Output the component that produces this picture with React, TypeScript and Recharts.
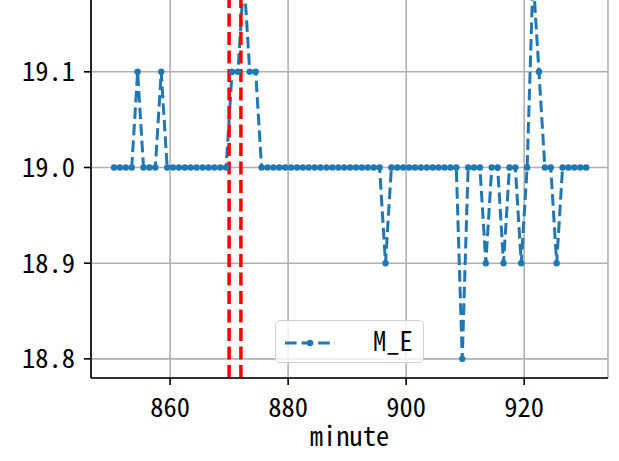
import React from 'react';
import { LineChart, Line, XAxis, YAxis, CartesianGrid, ReferenceLine } from 'recharts';

const minutes = [
  850.5, 851.5, 852.5, 853.5, 854.5, 855.5, 856.5, 857.5, 858.5, 859.5,
  860.5, 861.5, 862.5, 863.5, 864.5, 865.5, 866.5, 867.5, 868.5, 869.5,
  870.5, 871.5, 872.5, 873.5, 874.5, 875.5, 876.5, 877.5, 878.5, 879.5,
  880.5, 881.5, 882.5, 883.5, 884.5, 885.5, 886.5, 887.5, 888.5, 889.5,
  890.5, 891.5, 892.5, 893.5, 894.5, 895.5, 896.5, 897.5, 898.5, 899.5,
  900.5, 901.5, 902.5, 903.5, 904.5, 905.5, 906.5, 907.5, 908.5, 909.5,
  910.5, 911.5, 912.5, 913.5, 914.5, 915.5, 916.5, 917.5, 918.5, 919.5,
  920.5, 921.5, 922.5, 923.5, 924.5, 925.5, 926.5, 927.5, 928.5, 929.5,
  930.5,
];

const meValues = [
  19.0, 19.0, 19.0, 19.0, 19.1, 19.0, 19.0, 19.0, 19.1, 19.0,
  19.0, 19.0, 19.0, 19.0, 19.0, 19.0, 19.0, 19.0, 19.0, 19.0,
  19.1, 19.1, 19.2, 19.1, 19.1, 19.0, 19.0, 19.0, 19.0, 19.0,
  19.0, 19.0, 19.0, 19.0, 19.0, 19.0, 19.0, 19.0, 19.0, 19.0,
  19.0, 19.0, 19.0, 19.0, 19.0, 19.0, 18.9, 19.0, 19.0, 19.0,
  19.0, 19.0, 19.0, 19.0, 19.0, 19.0, 19.0, 19.0, 19.0, 18.8,
  19.0, 19.0, 19.0, 18.9, 19.0, 19.0, 18.9, 19.0, 19.0, 18.9,
  19.0, 19.2, 19.1, 19.0, 19.0, 18.9, 19.0, 19.0, 19.0, 19.0,
  19.0,
];

const xTicks = [860, 880, 900, 920];
const yTicks = [18.8, 18.9, 19.0, 19.1];
const markerMinutes = [870, 872];
const seriesName = 'M_E';
const xLabel = 'minute';

const data = minutes.map((m, i) => ({ minute: m, [seriesName]: meValues[i] }));

const FONT = "'Noto Sans Mono CJK SC', 'DejaVu Sans Mono', monospace";
const FS = 26.5;
const BLUE = '#1f77b4';

export default function App() {
  return (
    <div>
      <div style={{ position: 'absolute', left: 0, top: -50, width: 619, height: 511 }}>
        <LineChart width={619} height={511} data={data} margin={{ top: 7, right: 11, bottom: 13, left: 0 }}>
          <CartesianGrid stroke="#b0b0b0" strokeWidth={1.6} />
          <XAxis
            dataKey="minute"
            type="number"
            domain={[846.6, 934.2]}
            allowDataOverflow
            ticks={xTicks}
            height={70}
            tickSize={7}
            tickMargin={13}
            axisLine={{ stroke: '#000', strokeWidth: 1.6 }}
            tickLine={{ stroke: '#000', strokeWidth: 1.6 }}
            tick={{ fill: '#000', fontSize: FS, fontFamily: FONT }}
            label={{ value: xLabel, position: 'insideBottom', offset: 2, fill: '#000', fontSize: FS, fontFamily: FONT }}
          />
          <YAxis
            type="number"
            domain={[18.78, 19.22]}
            allowDataOverflow
            ticks={yTicks}
            width={91}
            tickSize={7}
            tickMargin={9}
            tickFormatter={(v: number) => v.toFixed(1)}
            axisLine={{ stroke: '#000', strokeWidth: 1.6 }}
            tickLine={{ stroke: '#000', strokeWidth: 1.6 }}
            tick={{ fill: '#000', fontSize: FS, fontFamily: FONT }}
          />
          <YAxis
            yAxisId="frame"
            orientation="right"
            type="number"
            domain={[18.78, 19.22]}
            width={0}
            tick={false}
            tickLine={false}
            axisLine={{ stroke: '#000', strokeWidth: 1.6 }}
          />
          <Line
            dataKey={seriesName}
            stroke={BLUE}
            strokeWidth={3}
            strokeDasharray="11.6 5"
            dot={{ r: 3.2, fill: BLUE, stroke: BLUE, strokeWidth: 0 }}
            activeDot={false}
            isAnimationActive={false}
          />
          {markerMinutes.map((m) => (
            <ReferenceLine key={m} x={m} stroke="#ff0000" strokeWidth={3.5} strokeDasharray="13 5.5" />
          ))}
        </LineChart>
      </div>
      <div
        style={{
          position: 'absolute',
          left: 275,
          top: 320,
          width: 149,
          height: 43,
          boxSizing: 'border-box',
          border: '1.5px solid #d0d0d0',
          borderRadius: 5,
          background: 'rgba(255,255,255,0.8)',
        }}
      >
        <svg width={146} height={40} style={{ position: 'absolute', left: 0, top: 0 }}>
          <line x1={9} y1={22} x2={59} y2={22} stroke={BLUE} strokeWidth={3} strokeDasharray="11.6 5" />
          <circle cx={34} cy={22} r={3.2} fill={BLUE} />
          <text x={97} y={29.5} fontSize={FS} fontFamily={FONT} fill="#000">{seriesName}</text>
        </svg>
      </div>
    </div>
  );
}
